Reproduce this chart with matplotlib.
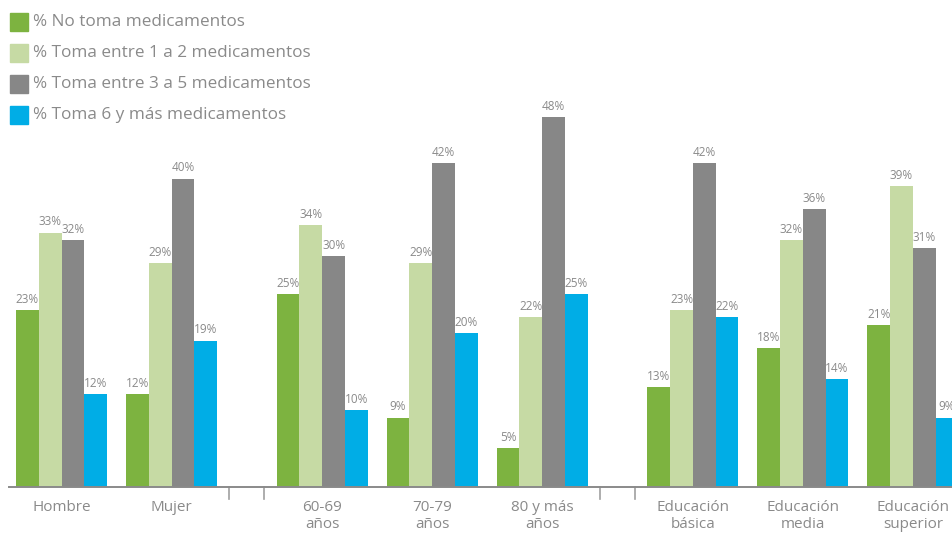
import numpy as np
import matplotlib.pyplot as plt
from matplotlib.patches import Rectangle

# --- data ---
categories = ["Hombre", "Mujer", "60-69\naños", "70-79\naños", "80 y más\naños",
              "Educación\nbásica", "Educación\nmedia", "Educación\nsuperior"]
group_sizes = [2, 3, 3]  # sexo, edad, educación
series_names = ["% No toma medicamentos", "% Toma entre 1 a 2 medicamentos",
                "% Toma entre 3 a 5 medicamentos", "% Toma 6 y más medicamentos"]
no_toma = [23, 12, 25, 9, 5, 13, 18, 21]
toma_1_2 = [33, 29, 34, 29, 22, 23, 32, 39]
toma_3_5 = [32, 40, 30, 42, 48, 42, 36, 31]
toma_6 = [12, 19, 10, 20, 25, 22, 14, 9]

colors = ["#7db340", "#c6daa4", "#878787", "#00ade6"]
text_color = "#8a8a8a"

plt.rcParams["font.family"] = ["Open Sans", "DejaVu Sans"]

W, H = 952, 533
fig = plt.figure(figsize=(W / 100, H / 100), dpi=100)

# axes placed in pixel terms: baseline at y=487, left edge x=9
ax = fig.add_axes([9 / W, (H - 487) / H, (W - 9) / W, 387 / H])
ax.set_ylim(0, 387 / 7.71)

# category positions with a wider gap between groups
gap = 0.37
pos = []
x = 0.0
for g, n in enumerate(group_sizes):
    for i in range(n):
        pos.append(x)
        x += 1
    x += gap
pos = np.array(pos)

slot_px = 110.0
center0_px = 61.5
ax.set_xlim((9 - center0_px) / slot_px, (W - center0_px) / slot_px)

bar_w = 0.207
all_series = [no_toma, toma_1_2, toma_3_5, toma_6]
for k, vals in enumerate(all_series):
    xs = pos + (k - 1.5) * bar_w
    ax.bar(xs, vals, width=bar_w, color=colors[k], linewidth=0, zorder=2)
    for xi, v in zip(xs, vals):
        ax.annotate(f"{v}%", (xi, v), xytext=(0, 3), textcoords="offset points",
                    ha="center", va="bottom", fontsize=8.5, color=text_color,
                    annotation_clip=False)

# baseline and group separator ticks
for s in ["top", "right", "left", "bottom"]:
    ax.spines[s].set_visible(False)
ax.axhline(0, color="#8a8a8a", linewidth=1.4, zorder=3, clip_on=False)
ax.set_yticks([])
ax.set_xticks([])

bounds = np.cumsum(group_sizes)[:-1]
for b in bounds:
    mid = (pos[b - 1] + pos[b]) / 2
    for off in (-0.16, 0.16):
        ax.plot([mid + off, mid + off], [0, -1.55], color="#a0a0a0",
                linewidth=1.2, clip_on=False)

for xi, lab in zip(pos, categories):
    ax.text(xi, -1.75, lab, ha="center", va="top", fontsize=11,
            color=text_color, linespacing=1.15, clip_on=False)

# legend drawn as squares with text at the top left
for k, name in enumerate(series_names):
    y_px = 22 + k * 31
    fig.patches.append(Rectangle((10 / W, (H - y_px - 9) / H), 18 / W, 18 / H,
                                 transform=fig.transFigure, color=colors[k]))
    fig.text(33 / W, (H - y_px) / H, name, ha="left", va="center",
             fontsize=12.3, color=text_color)

fig.savefig("out.png", dpi=100)
